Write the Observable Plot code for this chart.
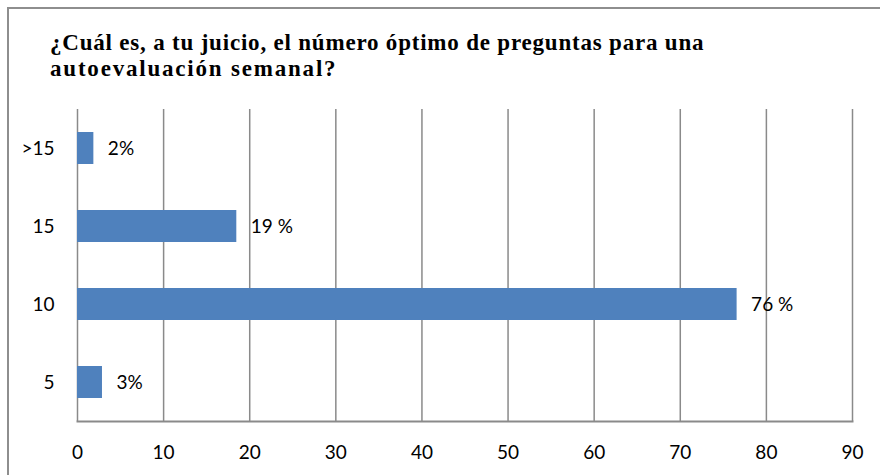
<!DOCTYPE html>
<html>
<head>
<meta charset="utf-8">
<script src="https://cdn.jsdelivr.net/npm/d3@7"></script>
<script src="https://cdn.jsdelivr.net/npm/@observablehq/plot@0.6"></script>
<style>
  html, body { margin: 0; padding: 0; background: #fff; }
  #wrap { position: relative; width: 880px; height: 475px; overflow: hidden; }
  #frame { position: absolute; left: 7px; top: 7px; width: 1000px; height: 1000px; border: 2px solid #8e8e8e; box-sizing: border-box; }
  #title { position: absolute; left: 50px; top: 30px; font-family: "Liberation Serif", "Times New Roman", serif; font-weight: bold; font-size: 23px; line-height: 26px; letter-spacing: 0.8px; color: #000; white-space: nowrap; }
  #title .l2 { letter-spacing: 1.8px; }
  #chart { position: absolute; left: 0; top: 0; }
</style>
</head>
<body>
<div id="wrap">
  <div id="frame"></div>
  <div id="chart"></div>
  <div id="title">¿Cuál es, a tu juicio, el número óptimo de preguntas para una<br><span class="l2">autoevaluación semanal?</span></div>
</div>
<script>
const categories = [">15", "15", "10", "5"];
const values = [1.9, 18.5, 76.6, 2.9];
const labels = ["2%", "19 %", "76 %", "3%"];
const xTicks = [0, 10, 20, 30, 40, 50, 60, 70, 80, 90];

const data = categories.map((c, i) => ({cat: c, value: values[i], label: labels[i]}));

const chart = Plot.plot({
  width: 880,
  height: 475,
  marginTop: 109,
  marginBottom: 54,
  marginLeft: 77,
  marginRight: 28,
  style: {fontFamily: "Lato, 'Open Sans', sans-serif", fontSize: "19px", color: "#000", background: "transparent"},
  x: {domain: [0, 90], ticks: xTicks, tickSize: 0, tickPadding: 24, label: null},
  y: {domain: categories, paddingInner: 0.59, paddingOuter: 0.295, tickSize: 0, tickPadding: 23, label: null},
  marks: [
    Plot.ruleX(xTicks, {stroke: "#8a8a8a", strokeWidth: 1.5}),
    Plot.frame({anchor: "bottom", stroke: "#8a8a8a", strokeWidth: 2}),
    Plot.barX(data, {x: "value", y: "cat", fill: "#4f81bd"}),
    Plot.text(data, {x: "value", y: "cat", text: "label", textAnchor: "start", dx: 14, fill: "#000", fontSize: 19})
  ]
});
document.getElementById("chart").appendChild(chart);
</script>
</body>
</html>
